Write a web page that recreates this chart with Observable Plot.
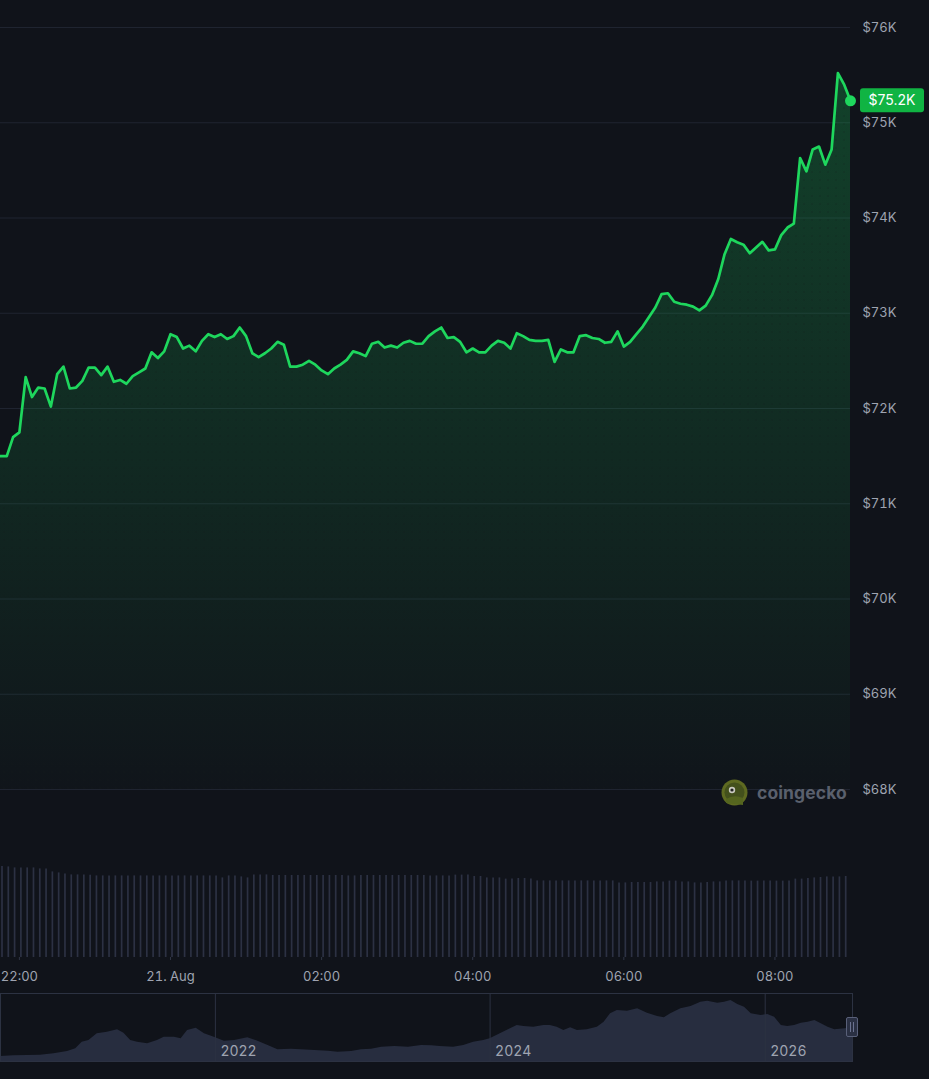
<!DOCTYPE html>
<html>
<head>
<meta charset="utf-8">
<script src="https://cdn.jsdelivr.net/npm/d3@7"></script>
<script src="https://cdn.jsdelivr.net/npm/@observablehq/plot@0.6"></script>
<style>
  html, body { margin: 0; padding: 0; background: #10131a; }
  #root { position: relative; width: 929px; height: 1079px; overflow: hidden; background: #10131a; font-family: Inter, "Noto Sans", sans-serif; }
  #price { position: absolute; left: 0; top: 0; }
  #volume { position: absolute; left: 0; top: 840px; }
  #nav { position: absolute; left: 0; top: 990px; }
  #wm { position: absolute; left: 721px; top: 779px; display: flex; align-items: center; gap: 9px; }
  #wm span { font-family: Inter, "Noto Sans", sans-serif; font-weight: 700; font-size: 17.5px; color: #5a606d; letter-spacing: 0.1px; }
</style>
</head>
<body>
<div id="root">
  <div id="price"></div>
  <div id="volume"></div>
  <div id="nav"></div>
  <div id="wm">
    <svg width="27" height="27" viewBox="0 0 27 27">
      <circle cx="13.5" cy="13.5" r="13" fill="#5e6a21"/>
      <circle cx="13.5" cy="13.5" r="10" fill="#43501c"/>
      <circle cx="11" cy="11" r="3.2" fill="#c9c9c0"/>
      <circle cx="11" cy="11" r="1.6" fill="#222"/>
      <path d="M5 20 Q13 15 22 19 L22 26 L5 24 Z" fill="#55651f"/>
    </svg>
    <span>coingecko</span>
  </div>
</div>
<script>
// ---------- DATA ----------
// 5-minute BTC price (in $K), 20 Aug 21:45 -> 21 Aug 09:00
const prices = [
  71.50, 71.50, 71.70, 71.75, 72.33, 72.12, 72.22, 72.21, 72.02, 72.36,
  72.44, 72.21, 72.22, 72.29, 72.43, 72.43, 72.35, 72.44, 72.28, 72.30,
  72.26, 72.34, 72.38, 72.42, 72.59, 72.53, 72.60, 72.78, 72.75, 72.63,
  72.66, 72.60, 72.71, 72.78, 72.75, 72.78, 72.73, 72.76, 72.85, 72.76,
  72.58, 72.54, 72.58, 72.63, 72.70, 72.67, 72.44, 72.44, 72.46,
  72.50, 72.46, 72.40, 72.36, 72.42, 72.46, 72.51, 72.60, 72.58, 72.55,
  72.68, 72.70, 72.64, 72.66, 72.64, 72.69, 72.71, 72.68, 72.68, 72.76,
  72.81, 72.85, 72.74, 72.75, 72.70, 72.59, 72.63, 72.59, 72.59, 72.66,
  72.71, 72.69, 72.63, 72.79, 72.76, 72.72, 72.71, 72.71, 72.72, 72.49,
  72.62, 72.59, 72.59, 72.76, 72.77, 72.74,
  72.73, 72.69, 72.70, 72.81, 72.65, 72.70, 72.78, 72.86, 72.96, 73.06,
  73.20, 73.21, 73.12, 73.10, 73.09, 73.07, 73.03, 73.08, 73.19, 73.36,
  73.62, 73.78,
  73.745, 73.72, 73.63, 73.69, 73.75, 73.66, 73.67, 73.82, 73.90, 73.94,
  74.63, 74.49, 74.72, 74.75, 74.56, 74.72, 75.52, 75.40, 75.23
];
// 24h volume (in $B) drawn under the 5-minute points
const volumes = [
  45.5, 45.3, 44.8, 44.8, 44.8, 44.8, 44.3, 44.3, 42.8, 42.3,
  41.8, 41.3, 41.3, 41.3, 41.1, 40.8, 40.8, 40.8, 40.8, 40.8,
  40.8, 40.8, 40.8, 40.8, 40.8, 40.8, 40.8, 40.8, 40.8, 40.8,
  40.8, 40.8, 40.8, 40.8, 40.8, 39.8, 40.8, 40.8, 40.3, 39.8,
  41.3, 41.3, 41.3, 41.0, 41.0, 41.0, 41.0, 41.0, 41.0, 41.0,
  41.0, 41.0, 41.0, 41.0, 41.0, 40.8, 40.8, 41.0, 41.0, 41.0,
  41.0, 41.0, 41.0, 41.0, 41.0, 41.0, 41.0, 41.0, 40.8, 40.8,
  40.8, 40.8, 41.2, 41.2, 41.2, 40.5, 40.5, 39.8, 39.8, 39.8,
  39.2, 39.2, 39.5, 39.5, 39.2, 38.3, 38.3, 38.3, 38.3, 38.3,
  38.3, 38.3, 38.3, 38.3, 38.3, 38.3, 38.3, 38.3, 37.3, 37.3,
  37.5, 37.5, 37.5, 37.5, 37.8, 37.8, 38.2, 38.2, 37.8, 37.8,
  37.3, 37.3, 37.5, 37.8, 37.8, 38.3, 38.3, 38.3, 38.2, 38.2,
  38.2, 38.2, 38.2, 38.2, 38.2, 38.3, 39.2, 39.2, 39.5, 39.8,
  40.0, 40.3, 40.3, 40.3, 40.5
];
const startTime = new Date(2026, 7, 20, 21, 45);
const stepMinutes = 5;

const yTicks = [68, 69, 70, 71, 72, 73, 74, 75, 76];
const xTickTimes = [
  new Date(2026, 7, 20, 22, 0), new Date(2026, 7, 21, 0, 0), new Date(2026, 7, 21, 2, 0),
  new Date(2026, 7, 21, 4, 0), new Date(2026, 7, 21, 6, 0), new Date(2026, 7, 21, 8, 0)
];
const xTickLabels = ["22:00", "21. Aug", "02:00", "04:00", "06:00", "08:00"];

// Navigator: long-term price history (in $K)
const navDates = [
  "2020-06-09","2020-07-14","2020-08-19","2020-09-23","2020-10-29","2020-12-04","2020-12-26",
  "2021-01-12","2021-01-30","2021-02-21","2021-03-20","2021-04-16","2021-05-03","2021-05-21",
  "2021-06-08","2021-07-05","2021-07-31","2021-08-18","2021-09-14","2021-10-02","2021-10-19",
  "2021-11-11","2021-12-03","2021-12-29","2022-01-25","2022-02-21","2022-03-28","2022-04-24",
  "2022-05-21","2022-06-16","2022-07-22","2022-08-17","2022-09-22","2022-10-28","2022-11-23",
  "2022-12-29","2023-01-24","2023-02-20","2023-03-19","2023-04-23","2023-05-29","2023-07-03",
  "2023-07-30","2023-08-21","2023-09-26","2023-10-23","2023-11-18","2023-12-15","2024-01-01",
  "2024-01-28","2024-02-24","2024-03-13","2024-03-31","2024-04-26","2024-05-23","2024-06-09",
  "2024-06-27","2024-07-15","2024-08-02","2024-08-20","2024-09-15","2024-10-12","2024-10-30",
  "2024-11-16","2024-12-04","2024-12-31","2025-01-27","2025-02-22","2025-03-21","2025-04-08",
  "2025-04-25","2025-05-22","2025-06-18","2025-07-14","2025-08-01","2025-08-28","2025-09-15",
  "2025-10-02","2025-10-20","2025-11-07","2025-11-25","2025-12-21","2026-01-08","2026-01-26",
  "2026-02-13","2026-03-02","2026-03-20","2026-04-07","2026-04-25","2026-05-13","2026-05-30",
  "2026-06-17","2026-07-05","2026-08-01","2026-08-21"
];
const navValues = [
  10, 11.4, 12, 12.6, 15.4, 20, 25.4,
  38.6, 42, 55.4, 58.6, 63.4, 56.6, 42,
  38.6, 35.4, 42, 48.6, 48.6, 45.4, 62,
  66.6, 55.4, 48.6, 40.6, 42, 47.4, 40.6,
  32, 23.4, 24.6, 23.4, 22, 20.6, 18.6,
  20, 23.4, 24.6, 28.6, 30, 28.6, 32,
  31.4, 30, 28.6, 32, 38.6, 42, 45.4,
  55.4, 65.4, 72, 70, 68.6, 72, 72,
  68.6, 62, 67.4, 62, 63.4, 68.6, 78.6,
  95.4, 102, 100.6, 105.4, 96.6, 90, 87.4,
  95.4, 105.4, 110, 118.6, 120.6, 116.6, 118.6,
  122, 114, 108.6, 95.4, 92, 94, 88.6,
  72, 70, 72, 76.6, 78.6, 82, 75.4,
  68.6, 63.4, 65.4, 67.4
];
const navTickYears = ["2022-01-01", "2024-01-01", "2026-01-01"];
const navStart = new Date(2020, 5, 9);
const navEnd = new Date(2026, 7, 21);

// ---------- BUILD ----------
const times = prices.map((_, i) => new Date(startTime.getTime() + i * stepMinutes * 60000));
const priceData = prices.map((p, i) => ({t: times[i], p}));
const volData = volumes.map((v, i) => ({t: times[i], v}));
const xDomain = [times[0], times[times.length - 1]];
const lastPt = priceData[priceData.length - 1];
const priceLabel = "$" + lastPt.p.toFixed(1) + "K";

const GREEN = "#1ed75d";
const LABEL = "#9fa4b1";
const GRID = "#1f2430";
const FONT = "Inter, 'Noto Sans', sans-serif";

const gradDefs = () => {
  const defs = d3.create("svg:defs");
  const g = defs.append("linearGradient").attr("id", "pfill")
    .attr("x1", 0).attr("y1", 0).attr("x2", 0).attr("y2", 1);
  g.append("stop").attr("offset", "0%").attr("stop-color", "#18c85a").attr("stop-opacity", 0.26);
  g.append("stop").attr("offset", "55%").attr("stop-color", "#18c85a").attr("stop-opacity", 0.12);
  g.append("stop").attr("offset", "100%").attr("stop-color", "#18c85a").attr("stop-opacity", 0.01);
  const pat = defs.append("pattern").attr("id", "pdots").attr("width", 8).attr("height", 8)
    .attr("patternUnits", "userSpaceOnUse");
  pat.append("circle").attr("cx", 4).attr("cy", 4).attr("r", 0.8).attr("fill", "#10131a").attr("fill-opacity", 0.35);
  return defs.node();
};

const priceTag = (index, scales, values, dims) => {
  const y = scales.y(lastPt.p);
  const x0 = dims.width - dims.marginRight + 10;
  const g = d3.create("svg:g");
  g.append("rect").attr("x", x0).attr("y", y - 12).attr("width", 64).attr("height", 24)
    .attr("rx", 3).attr("fill", "#10b443");
  g.append("text").attr("x", x0 + 32).attr("y", y).attr("dy", "0.36em")
    .attr("text-anchor", "middle").attr("fill", "#ffffff").attr("font-size", 14)
    .attr("font-family", FONT).text(priceLabel);
  return g.node();
};

const pricePlot = Plot.plot({
  width: 929, height: 830,
  marginLeft: 0, marginRight: 79, marginTop: 27, marginBottom: 41,
  style: {background: "transparent", color: LABEL, fontFamily: FONT, fontSize: "13px"},
  x: {type: "time", domain: xDomain, axis: null},
  y: {domain: [68, 76], axis: null},
  marks: [
    gradDefs,
    Plot.gridY(yTicks, {stroke: GRID, strokeOpacity: 1, strokeWidth: 1}),
    Plot.areaY(priceData, {x: "t", y1: 68, y2: "p", fill: "url(#pfill)"}),
    Plot.areaY(priceData, {x: "t", y1: 68, y2: "p", fill: "url(#pdots)"}),
    Plot.lineY(priceData, {x: "t", y: "p", stroke: GREEN, strokeWidth: 2.7, strokeLinejoin: "round"}),
    Plot.dot([lastPt], {x: "t", y: "p", r: 5.5, fill: GREEN}),
    Plot.axisY(yTicks, {anchor: "right", label: null, tickSize: 0, tickPadding: 12, fill: LABEL, fontSize: 13,
      tickFormat: d => `$${d}K`}),
    priceTag
  ]
});
document.getElementById("price").appendChild(pricePlot);

const tickLabelMap = new Map(xTickTimes.map((d, i) => [+d, xTickLabels[i]]));
const volPlot = Plot.plot({
  width: 929, height: 150,
  marginLeft: 0, marginRight: 79, marginTop: 17, marginBottom: 33,
  style: {background: "transparent", color: LABEL, fontFamily: FONT, fontSize: "13px"},
  x: {type: "time", domain: xDomain, axis: null},
  y: {domain: [0, 50], axis: null},
  marks: [
    Plot.ruleX(volData, {x: "t", y1: 0, y2: "v", stroke: "#2c3143", strokeWidth: 1.7, dx: 1.5}),
    Plot.axisX(xTickTimes, {anchor: "bottom", label: null, tickSize: 3, tickPadding: 11, stroke: "#2f3545",
      fill: LABEL, fontSize: 13, tickFormat: d => tickLabelMap.get(+d)})
  ]
});
document.getElementById("volume").appendChild(volPlot);

const parseDay = d3.timeParse("%Y-%m-%d");
const navData = navDates.map((d, i) => ({d: parseDay(d), v: navValues[i]}));
const navTicks = navTickYears.map(parseDay);

const navHandle = (index, scales, values, dims) => {
  const x = scales.x(navEnd);
  const cy = (dims.marginTop + dims.height - dims.marginBottom) / 2;
  const g = d3.create("svg:g");
  g.append("rect").attr("x", x - 5.5).attr("y", cy - 9.5).attr("width", 11).attr("height", 19)
    .attr("rx", 1.5).attr("fill", "#2a3043").attr("stroke", "#596079").attr("stroke-width", 1);
  g.append("line").attr("x1", x - 1.5).attr("x2", x - 1.5).attr("y1", cy - 5).attr("y2", cy + 5).attr("stroke", "#6b7290");
  g.append("line").attr("x1", x + 1.5).attr("x2", x + 1.5).attr("y1", cy - 5).attr("y2", cy + 5).attr("stroke", "#6b7290");
  return g.node();
};

const navPlot = Plot.plot({
  width: 929, height: 89,
  marginLeft: 0, marginRight: 77, marginTop: 3, marginBottom: 18,
  style: {background: "transparent", color: LABEL, fontFamily: FONT, fontSize: "14px", overflow: "hidden"},
  x: {type: "time", domain: [navStart, navEnd], axis: null},
  y: {domain: [0, 136], axis: null},
  marks: [
    Plot.areaY(navData, {x: "d", y: "v", fill: "#272d3f"}),
    Plot.gridX(navTicks, {stroke: "#2c3242", strokeOpacity: 1}),
    Plot.frame({stroke: "#2c3242"}),
    Plot.axisX(navTicks, {anchor: "bottom", label: null, tickSize: 0, tickPadding: 3, textAnchor: "start", dx: 5, dy: -18,
      fill: LABEL, fontSize: 14, tickFormat: d3.timeFormat("%Y")}),
    navHandle
  ]
});
document.getElementById("nav").appendChild(navPlot);
</script>
</body>
</html>
